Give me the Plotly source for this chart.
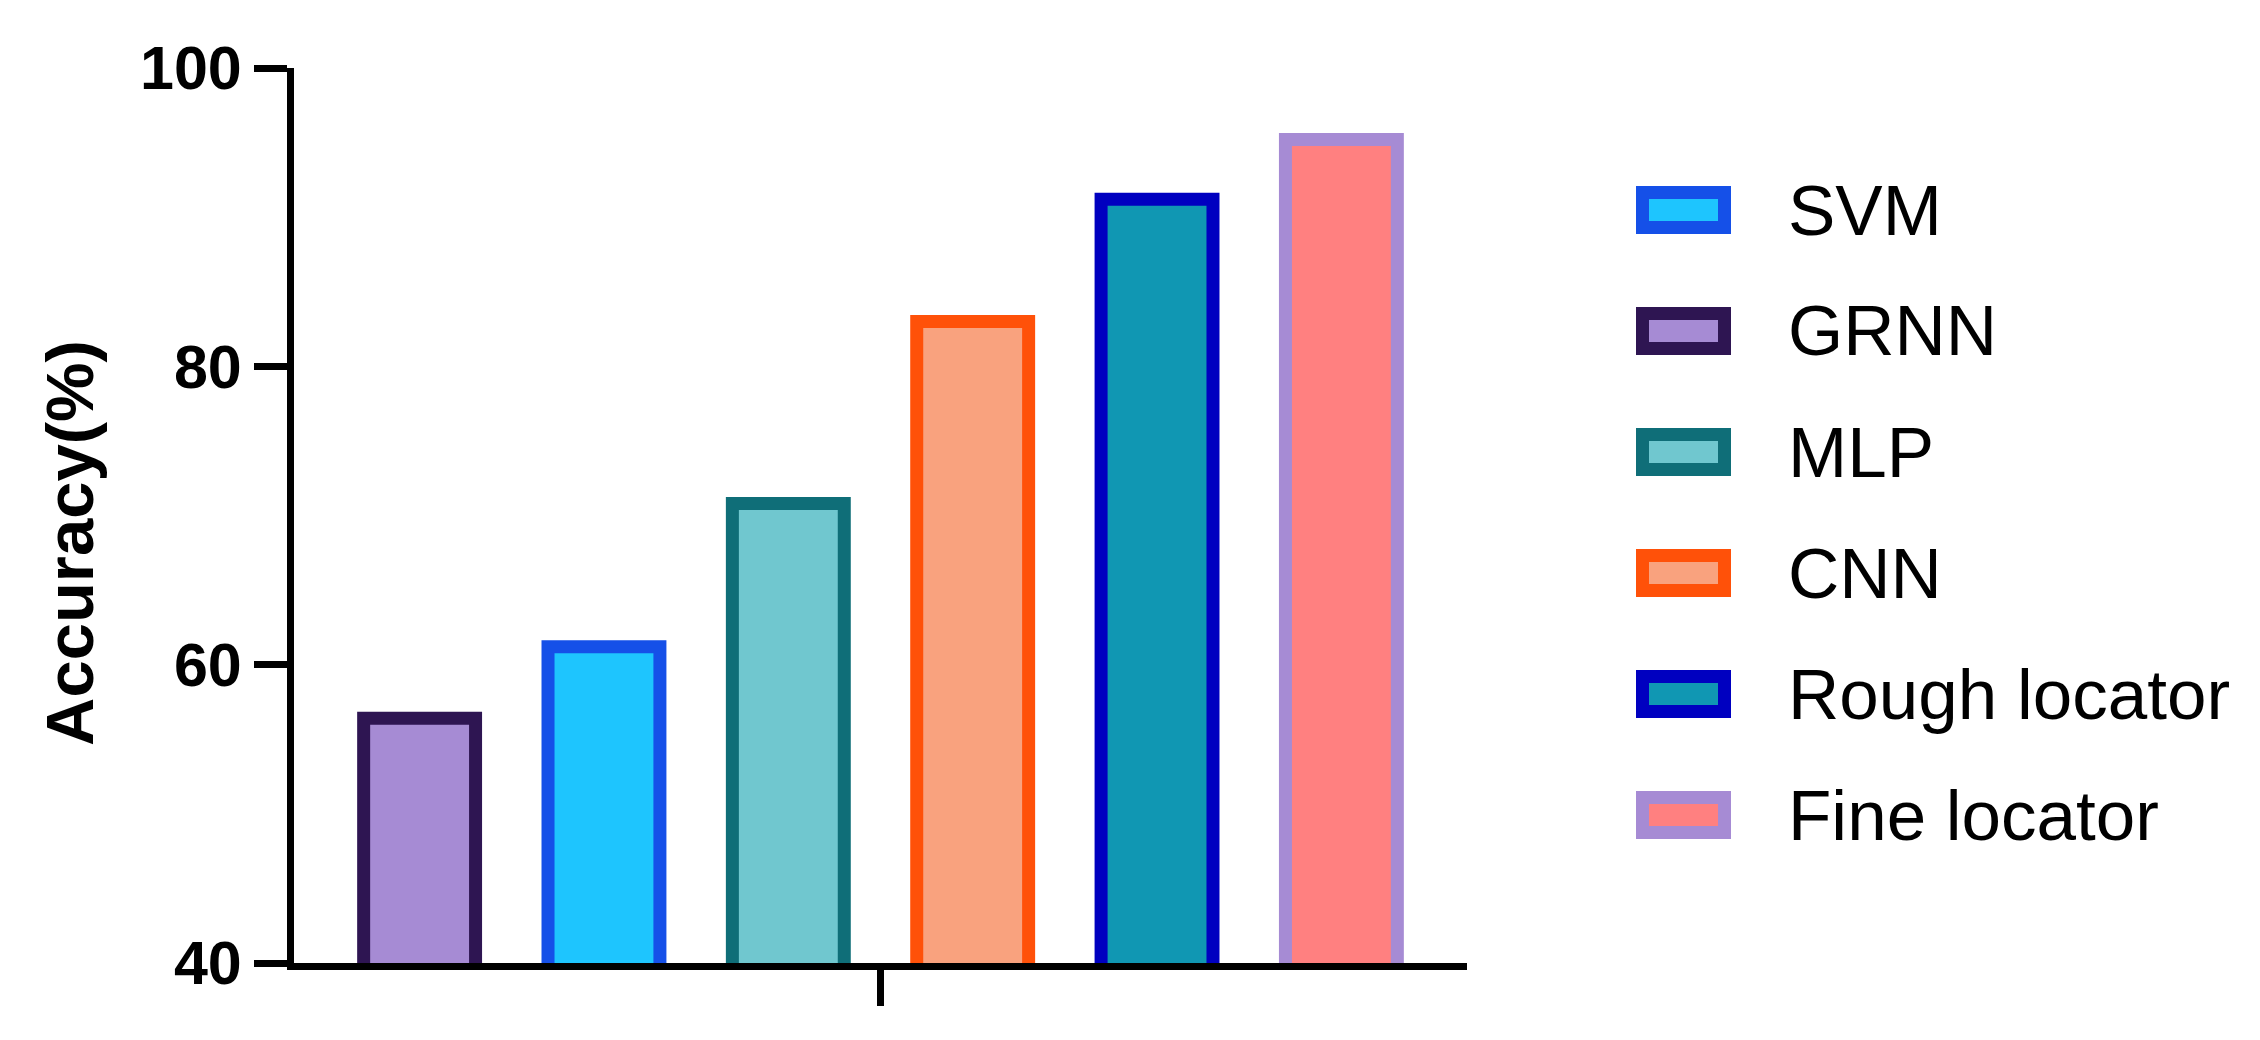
import plotly.graph_objects as go

# bars left to right
models = ['GRNN', 'SVM', 'MLP', 'CNN', 'Rough locator', 'Fine locator']
accuracy = [56.4, 61.2, 70.8, 83.0, 91.2, 95.2]
fill_colors = ['#A68BD4', '#1EC5FE', '#70C7CF', '#F9A27E', '#1097B3', '#FF8080']
line_colors = ['#2E1552', '#1550E8', '#0F6E78', '#FF5109', '#0000C0', '#A68BD4']
legend_order = ['SVM', 'GRNN', 'MLP', 'CNN', 'Rough locator', 'Fine locator']
y_ticks = [40, 60, 80, 100]

W, H = 2260, 1040
# page body has an 8px margin, so the plot area is nudged up/left by 8
L, R, T, B = 286, 2260 - 1459, 60, 1040 - 955
pw, ph = W - L - R, H - T - B
font = 'Liberation Sans, Arial'

fig = go.Figure()
for name, val, fc, lc in zip(models, accuracy, fill_colors, line_colors):
    fig.add_trace(go.Bar(x=[0], y=[val], name=name, offsetgroup=name,
                         marker=dict(color=fc, line=dict(color=lc, width=13)),
                         showlegend=False))

# hand-made legend with big swatches
shapes, annotations = [], []
for i, name in enumerate(legend_order):
    k = models.index(name)
    cy = 202 + i * 121
    py = (H - B - cy) / ph
    x0 = (1634.5 - L) / pw
    x1 = (1716.5 - L) / pw
    hh = 17.5 / ph
    shapes.append(dict(type='rect', xref='paper', yref='paper', x0=x0, x1=x1,
                       y0=py - hh, y1=py + hh, fillcolor=fill_colors[k],
                       line=dict(color=line_colors[k], width=13), layer='above'))
    annotations.append(dict(xref='paper', yref='paper', x=(1778 - L) / pw, y=py,
                            text=name, showarrow=False, xanchor='left', yanchor='middle',
                            font=dict(family=font, size=71, color='black')))

# y axis title, sits a little below the axis middle like the original
annotations.append(dict(xref='paper', yref='paper', x=(61 - L) / pw, y=(H - B - 535) / ph,
                        text='Accuracy(%)', textangle=-90, showarrow=False,
                        xanchor='center', yanchor='middle',
                        font=dict(family=font, size=67, weight='bold', color='black')))

fig.update_layout(
    width=W, height=H,
    margin=dict(l=L, r=R, t=T, b=B, autoexpand=False),
    plot_bgcolor='white', paper_bgcolor='white',
    barmode='group', bargap=0.057, bargroupgap=0.393,
    shapes=shapes, annotations=annotations,
    font=dict(family=font, color='black'),
)
fig.update_xaxes(range=[-0.5, 0.5], tickvals=[0], ticktext=[''], ticks='outside',
                 ticklen=36, tickwidth=7, tickcolor='black',
                 showline=True, linewidth=7, linecolor='black',
                 showgrid=False, zeroline=False, fixedrange=True)
fig.update_yaxes(range=[40, 100], tickvals=y_ticks, ticks='outside',
                 ticklen=33, tickwidth=7, tickcolor='black',
                 showline=True, linewidth=7, linecolor='black',
                 showgrid=False, zeroline=False,
                 tickfont=dict(size=61, weight='bold', family=font))

fig.write_html('out.html')
